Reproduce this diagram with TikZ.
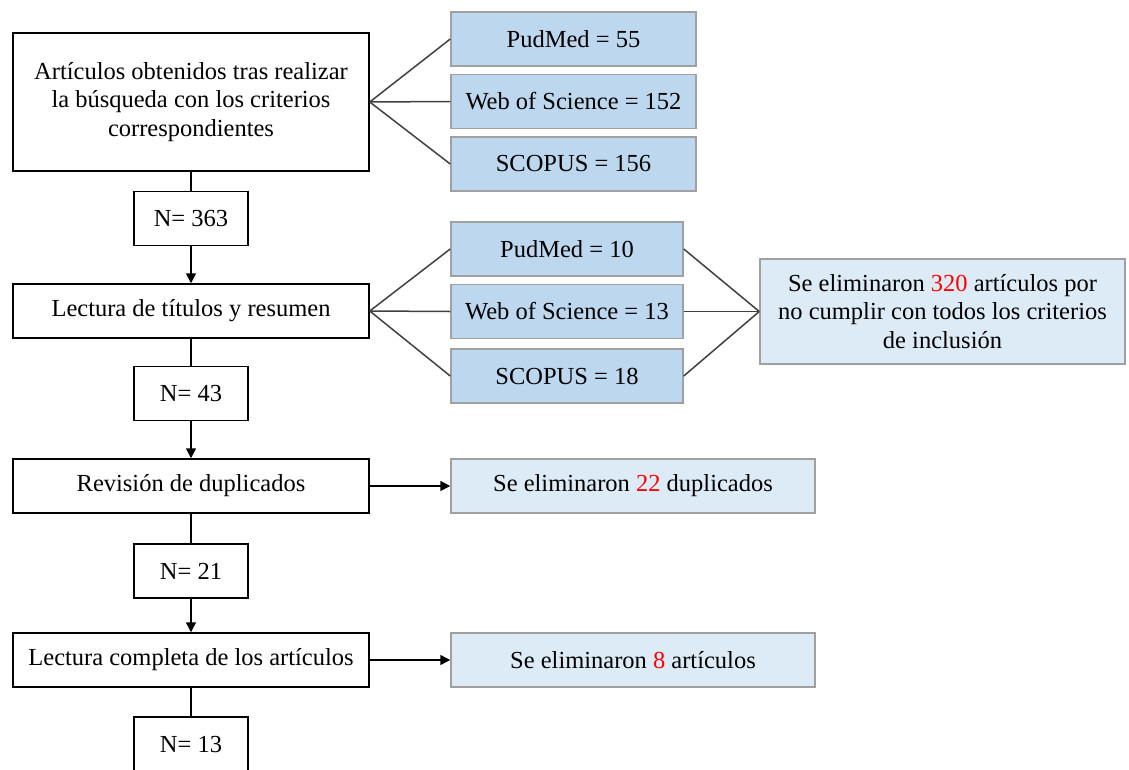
\documentclass[tikz,border=0pt]{standalone}
\usepackage{fontspec}
\setmainfont{Liberation Serif}
\usetikzlibrary{arrows.meta}

\definecolor{azul}{RGB}{189,215,238}
\definecolor{azulclaro}{RGB}{221,235,247}
\definecolor{borde}{RGB}{160,160,160}
\definecolor{rojo}{RGB}{255,0,0}

\begin{document}
\begin{tikzpicture}[x=1pt, y=-1pt,
    texto/.style={align=center, inner sep=0pt, font=\fontsize{24.5}{28.5}\selectfont},
    paso/.style={texto, draw=black, line width=1.5pt, fill=white, minimum width=356pt, minimum height=54pt},
    cuenta/.style={texto, draw=black, line width=1.5pt, fill=white, minimum width=114pt, minimum height=54pt},
    base/.style={texto, draw=borde, line width=1.5pt, fill=azul, minimum height=54pt},
    descarte/.style={texto, draw=borde, line width=1.5pt, fill=azulclaro, minimum height=54pt},
    linea/.style={black!75, line width=1.5pt},
    flecha/.style={black, line width=1.5pt, -{Triangle[length=10pt,width=10pt]}}]
        \useasboundingbox (0,0) rectangle (1129,769);

        % columna principal
        \node[paso, minimum height=138pt] (busqueda) at (191,102) {Artículos obtenidos tras realizar\\la búsqueda con los criterios\\correspondientes};
        \node[cuenta] (n363) at (191,218.5) {N= 363};
        \node[paso] (titulos) at (191,311) {Lectura de títulos y resumen};
        \node[cuenta] (n43) at (191,393.5) {N= 43};
        \node[paso] (duplicados) at (191,486) {Revisión de duplicados};
        \node[cuenta] (n21) at (191,571) {N= 21};
        \node[paso] (completa) at (191,660) {Lectura completa de los artículos};
        \node[cuenta] (n13) at (191,744) {N= 13};

        % bases de datos, primera busqueda
        \node[base, minimum width=245pt] (pud1) at (573.5,39) {PudMed = 55};
        \node[base, minimum width=245pt] (wos1) at (573.5,101.5) {Web of Science = 152};
        \node[base, minimum width=245pt] (sco1) at (573.5,164) {SCOPUS = 156};

        % bases de datos, tras la lectura
        \node[base, minimum width=232pt] (pud2) at (567,249) {PudMed = 10};
        \node[base, minimum width=232pt] (wos2) at (567,311.5) {Web of Science = 13};
        \node[base, minimum width=232pt] (sco2) at (567,376) {SCOPUS = 18};

        % descartes
        \node[descarte, minimum width=365pt, minimum height=105pt] (elim320) at (942.5,311.5) {Se eliminaron \textcolor{rojo}{320} artículos por\\no cumplir con todos los criterios\\de inclusión};
        \node[descarte, minimum width=364pt] (elim22) at (633,486) {Se eliminaron \textcolor{rojo}{22} duplicados};
        \node[descarte, minimum width=364pt] (elim8) at (633,660) {Se eliminaron \textcolor{rojo}{8} artículos};

        \draw[linea] (busqueda.east) -- (pud1.west);
        \draw[linea] (busqueda.east) -- (wos1.west);
        \draw[linea] (busqueda.east) -- (sco1.west);
        \draw[linea] (titulos.east) -- (pud2.west);
        \draw[linea] (titulos.east) -- (wos2.west);
        \draw[linea] (titulos.east) -- (sco2.west);
        \draw[linea] (pud2.east) -- (elim320.west);
        \draw[linea] (wos2.east) -- (elim320.west);
        \draw[linea] (sco2.east) -- (elim320.west);

        \draw[black, line width=1.5pt] (busqueda) -- (n363);
        \draw[flecha] (n363) -- (titulos);
        \draw[black, line width=1.5pt] (titulos) -- (n43);
        \draw[flecha] (n43) -- (duplicados);
        \draw[black, line width=1.5pt] (duplicados) -- (n21);
        \draw[flecha] (n21) -- (completa);
        \draw[black, line width=1.5pt] (completa) -- (n13);

        \draw[flecha] (duplicados) -- (elim22);
        \draw[flecha] (completa) -- (elim8);
\end{tikzpicture}
\end{document}
